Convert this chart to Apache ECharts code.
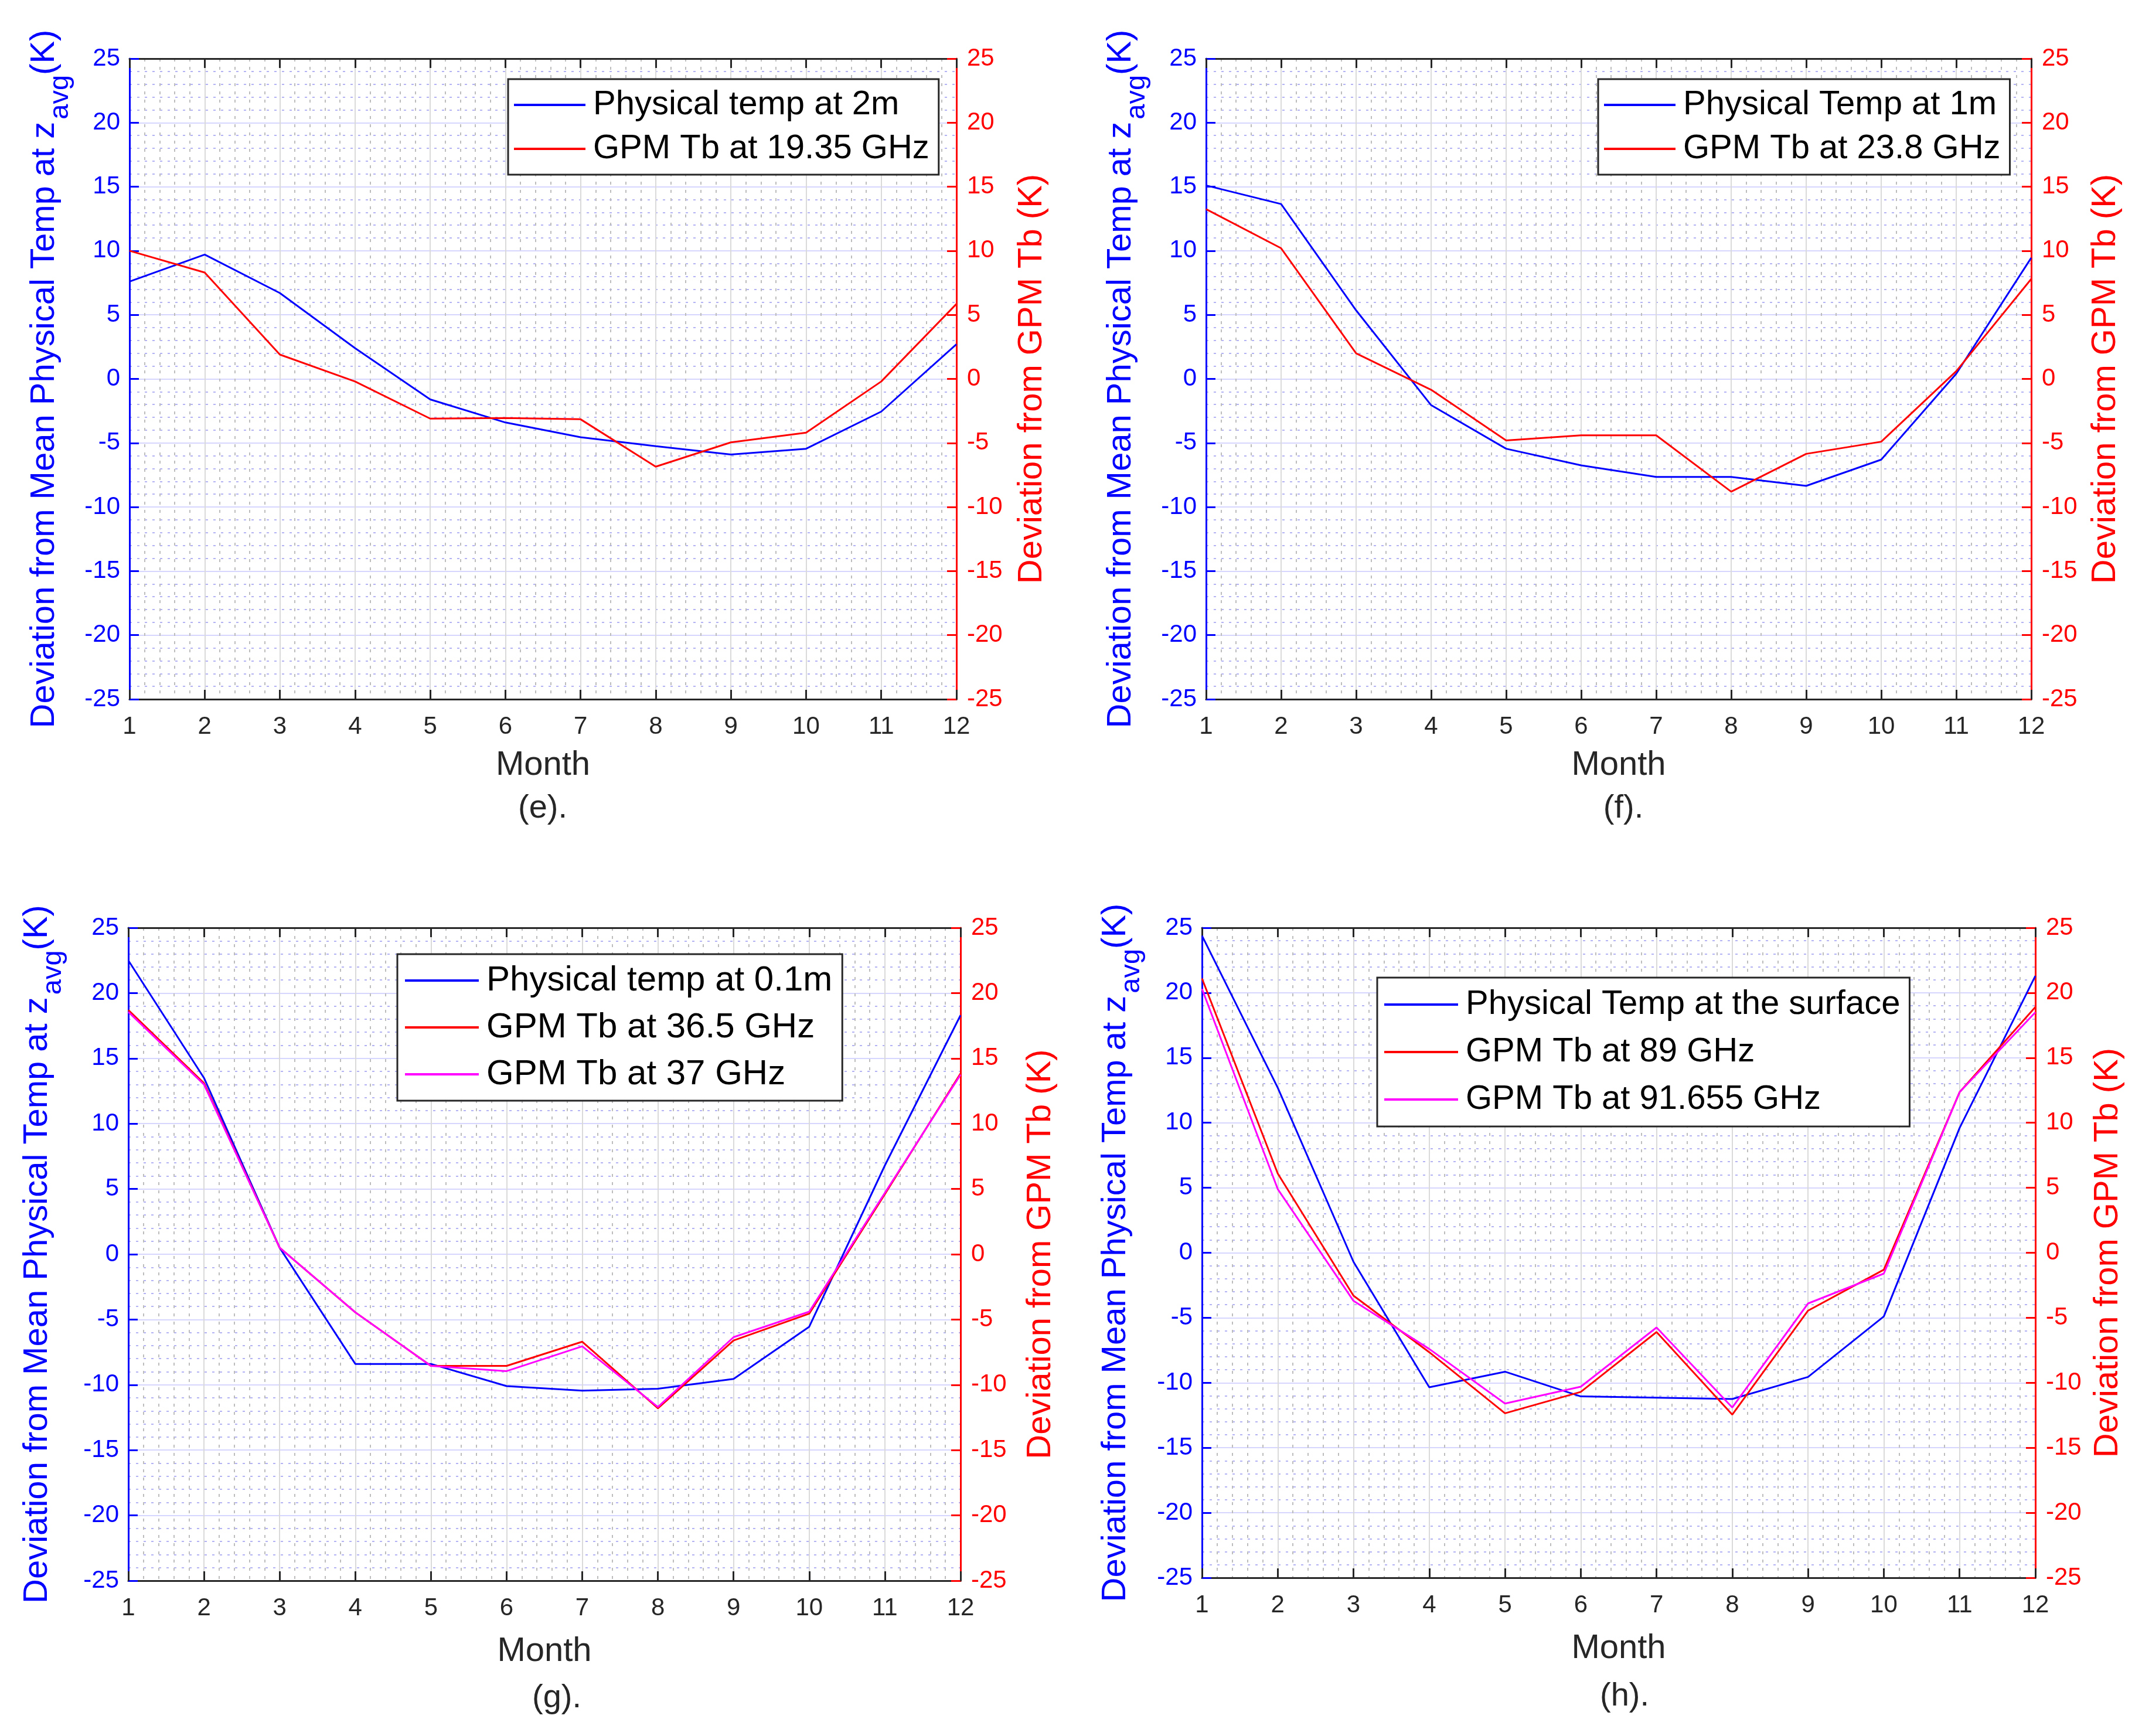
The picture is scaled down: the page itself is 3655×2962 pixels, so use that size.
<!DOCTYPE html>
<html>
<head>
<meta charset="utf-8">
<script src="https://cdn.jsdelivr.net/npm/echarts@6/dist/echarts.min.js"></script>
<style>
  html, body { margin: 0; padding: 0; background: #fff; }
  #chart { width: 3655px; height: 2962px; }
</style>
</head>
<body>
<div id="chart"></div>
<script>
const months = [1, 2, 3, 4, 5, 6, 7, 8, 9, 10, 11, 12]

// (e) 2 m / 19.35 GHz
const ePhys = [7.6, 9.7, 6.7, 2.4, -1.6, -3.4, -4.55, -5.25, -5.9, -5.45, -2.55, 2.7]
const eTb19 = [10.0, 8.3, 1.9, -0.2, -3.1, -3.05, -3.15, -6.85, -4.95, -4.2, -0.2, 5.85]

// (f) 1 m / 23.8 GHz
const fPhys = [15.1, 13.65, 5.35, -2.05, -5.45, -6.75, -7.65, -7.65, -8.35, -6.3, 0.4, 9.45]
const fTb23 = [13.25, 10.2, 2.0, -0.85, -4.8, -4.4, -4.4, -8.8, -5.85, -4.9, 0.6, 7.8]

// (g) 0.1 m / 36.5 and 37 GHz
const gPhys = [22.5, 13.5, 0.5, -8.4, -8.4, -10.1, -10.45, -10.3, -9.55, -5.55, 6.8, 18.3]
const gTb365 = [18.7, 13.1, 0.5, -4.45, -8.55, -8.55, -6.7, -11.8, -6.6, -4.55, 4.6, 13.85]
const gTb37 = [18.55, 13.0, 0.5, -4.45, -8.55, -8.95, -7.05, -11.7, -6.35, -4.4, 4.7, 13.75]

// (h) surface / 89 and 91.655 GHz
const hPhys = [24.4, 12.7, -0.7, -10.35, -9.15, -11.05, -11.15, -11.25, -9.55, -4.9, 9.6, 21.3]
const hTb89 = [21.1, 6.1, -3.3, -7.65, -12.35, -10.7, -6.1, -12.45, -4.45, -1.3, 12.35, 18.9]
const hTb91 = [20.3, 4.9, -3.7, -7.4, -11.6, -10.3, -5.75, -11.9, -3.9, -1.6, 12.35, 18.5]

const yTicks = { min: -25, max: 25, interval: 5 }
const xTicks = { min: 1, max: 12, interval: 1 }

const FONT = '"Liberation Sans", Arial, Helvetica, sans-serif'
const BLUE = '#0000ff'
const RED = '#ff0000'
const MAGENTA = '#ff00ff'
const DARK = '#262626'

const panels = [
  {
    grid: { left: 221, top: 100, width: 1411, height: 1093 },
    legend: { left: 867, top: 135, gap: 15, font: 58, icon: 122, pad: [14, 16, 14, 10] },
    caption: { text: '(e).', x: 926, y: 1380 },
    leftGap: 94, rightGap: 100, monthGap: 84,
    lines: [
      { name: 'Physical temp at 2m', color: BLUE, axis: 0, values: ePhys },
      { name: 'GPM Tb at 19.35 GHz', color: RED, axis: 1, values: eTb19 },
    ],
  },
  {
    grid: { left: 2058, top: 100, width: 1408, height: 1093 },
    legend: { left: 2727, top: 135, gap: 15, font: 58, icon: 122, pad: [14, 16, 14, 10] },
    caption: { text: '(f).', x: 2770, y: 1380 },
    leftGap: 94, rightGap: 98, monthGap: 84,
    lines: [
      { name: 'Physical Temp at 1m', color: BLUE, axis: 0, values: fPhys },
      { name: 'GPM Tb at 23.8 GHz', color: RED, axis: 1, values: fTb23 },
    ],
  },
  {
    grid: { left: 219, top: 1583, width: 1420, height: 1114 },
    legend: { left: 678, top: 1628, gap: 20, font: 60, icon: 126, pad: [15, 17, 15, 13] },
    caption: { text: '(g).', x: 950, y: 2898 },
    leftGap: 104, rightGap: 108, monthGap: 92,
    lines: [
      { name: 'Physical temp at 0.1m', color: BLUE, axis: 0, values: gPhys },
      { name: 'GPM Tb at 36.5 GHz', color: RED, axis: 1, values: gTb365 },
      { name: 'GPM Tb at 37 GHz', color: MAGENTA, axis: 1, values: gTb37 },
    ],
  },
  {
    grid: { left: 2051, top: 1583, width: 1422, height: 1109 },
    legend: { left: 2350, top: 1668, gap: 21, font: 58, icon: 126, pad: [16, 16, 16, 12] },
    caption: { text: '(h).', x: 2772, y: 2895 },
    leftGap: 96, rightGap: 95, monthGap: 92,
    lines: [
      { name: 'Physical Temp at the surface', color: BLUE, axis: 0, values: hPhys },
      { name: 'GPM Tb at 89 GHz', color: RED, axis: 1, values: hTb89 },
      { name: 'GPM Tb at 91.655 GHz', color: MAGENTA, axis: 1, values: hTb91 },
    ],
  },
]

const grids = []
const xAxes = []
const yAxes = []
const series = []
const legends = []
const graphics = []

panels.forEach((p, gi) => {
  grids.push(p.grid)

  // bottom month axis
  xAxes.push({
    gridIndex: gi, type: 'value', position: 'bottom', ...xTicks,
    name: 'Month', nameLocation: 'middle', nameGap: p.monthGap,
    nameTextStyle: { color: DARK, fontSize: 58, fontFamily: FONT },
    axisLine: { show: true, onZero: false, lineStyle: { color: DARK, width: 3 } },
    axisTick: { show: true, inside: true, length: 16, lineStyle: { color: DARK, width: 3 } },
    axisLabel: { color: DARK, fontSize: 42, fontFamily: FONT, margin: 26 },
    splitLine: { show: true, lineStyle: { color: '#dadada', width: 2 } },
    minorTick: { show: false, splitNumber: 5 },
    minorSplitLine: { show: true, lineStyle: { color: '#bdbdbd', width: 2, type: [5, 9] } },
  })
  // top frame with ticks
  xAxes.push({
    gridIndex: gi, type: 'value', position: 'top', ...xTicks,
    axisLine: { show: true, onZero: false, lineStyle: { color: DARK, width: 3 } },
    axisTick: { show: true, inside: true, length: 16, lineStyle: { color: DARK, width: 3 } },
    axisLabel: { show: false },
    splitLine: { show: false },
  })

  yAxes.push({
    gridIndex: gi, type: 'value', position: 'left', ...yTicks,
    name: '{a|Deviation from Mean Physical Temp at z}{s|avg}{a|(K)}',
    nameLocation: 'middle', nameGap: p.leftGap, nameRotate: 90,
    nameTextStyle: {
      color: BLUE, fontFamily: FONT,
      rich: {
        a: { fontSize: 58, color: BLUE, fontFamily: FONT, lineHeight: 80, verticalAlign: 'top' },
        s: { fontSize: 47, color: BLUE, fontFamily: FONT, lineHeight: 14, verticalAlign: 'bottom', padding: [0, 0, 0, 4] },
      },
    },
    axisLine: { show: true, onZero: false, lineStyle: { color: BLUE, width: 3 } },
    axisTick: { show: true, inside: true, length: 16, lineStyle: { color: BLUE, width: 3 } },
    axisLabel: { color: BLUE, fontSize: 42, fontFamily: FONT, margin: 16 },
    splitLine: { show: true, lineStyle: { color: '#d6d6ff', width: 2 } },
    minorTick: { show: false, splitNumber: 5 },
    minorSplitLine: { show: true, lineStyle: { color: '#b4b4f5', width: 2, type: [4, 9] } },
  })
  yAxes.push({
    gridIndex: gi, type: 'value', position: 'right', ...yTicks,
    name: 'Deviation from GPM Tb (K)',
    nameLocation: 'middle', nameGap: p.rightGap, nameRotate: 90,
    nameTextStyle: { color: RED, fontSize: 58, fontFamily: FONT },
    axisLine: { show: true, onZero: false, lineStyle: { color: RED, width: 3 } },
    axisTick: { show: true, inside: true, length: 16, lineStyle: { color: RED, width: 3 } },
    axisLabel: { color: RED, fontSize: 42, fontFamily: FONT, margin: 18 },
    splitLine: { show: false },
  })

  p.lines.forEach(l => {
    series.push({
      name: l.name, type: 'line',
      xAxisIndex: gi * 2, yAxisIndex: gi * 2 + l.axis,
      data: months.map((m, i) => [m, l.values[i]]),
      showSymbol: false, symbol: 'none', silent: true, animation: false,
      lineStyle: { color: l.color, width: 3 },
      itemStyle: { color: l.color },
      z: l.color === BLUE ? 3 : 4,
    })
  })

  legends.push({
    left: p.legend.left, top: p.legend.top, orient: 'vertical',
    data: p.lines.map(l => l.name),
    icon: 'rect', itemWidth: p.legend.icon, itemHeight: 4, itemGap: p.legend.gap,
    padding: p.legend.pad,
    borderColor: DARK, borderWidth: 3, backgroundColor: '#fff',
    selectedMode: false,
    textStyle: { color: '#000', fontSize: p.legend.font, fontFamily: FONT, lineHeight: 60, padding: [0, 0, 0, 8] },
  })

  graphics.push({
    type: 'text', x: p.caption.x, y: p.caption.y,
    style: { text: p.caption.text, fill: DARK, font: '56px ' + FONT, textAlign: 'center', textVerticalAlign: 'middle' },
  })
})

const chart = echarts.init(document.getElementById('chart'), null, { renderer: 'canvas' })
chart.setOption({
  backgroundColor: '#fff',
  animation: false,
  grid: grids,
  xAxis: xAxes,
  yAxis: yAxes,
  series: series,
  legend: legends,
  graphic: graphics,
})
</script>
</body>
</html>
